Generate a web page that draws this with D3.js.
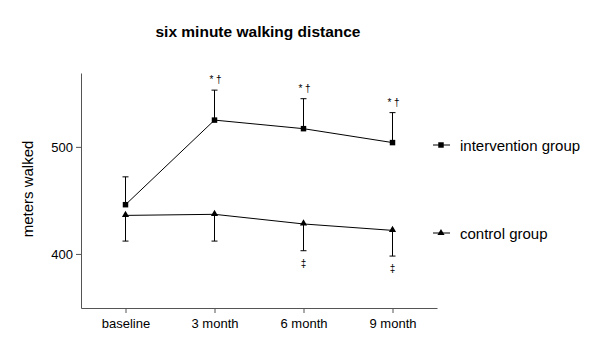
<!DOCTYPE html>
<html>
<head>
<meta charset="utf-8">
<script src="https://cdn.jsdelivr.net/npm/d3@7"></script>
<style>
  body { margin: 0; background: #fff; }
  text { font-family: "Liberation Sans", Arial, sans-serif; fill: #000; }
</style>
</head>
<body>
<div id="chart"></div>
<script>
const TIMEPOINTS = ['baseline', '3 month', '6 month', '9 month'];
const INTERVENTION_MEAN = [446, 525, 517, 504];
const INTERVENTION_UPPER = [472, 553, 545, 532];
const CONTROL_MEAN = [436, 437, 428, 422];
const CONTROL_LOWER = [412, 412, 403, 398];
const INTERVENTION_MARKS = ['', '* †', '* †', '* †'];
const CONTROL_MARKS = ['', '', '‡', '‡'];
const Y_TICKS = [400, 500];

function sixMinuteChart() {
  var width = 600, height = 353;
  var margin = {top: 73, right: 163, bottom: 45, left: 81};

  var svg = d3.select("#chart")
              .append("svg")
                .attr("width", width)
                .attr("height", height);

  var x = d3.scalePoint()
            .domain(TIMEPOINTS)
            .range([margin.left, width - margin.right])
            .padding(0.5);

  var y = d3.scaleLinear()
            .domain([349.5, 569])
            .range([height - margin.bottom, margin.top]);

  // title
  svg.append("text")
      .attr("x", 258)
      .attr("y", 37)
      .attr("text-anchor", "middle")
      .style("font-size", "15.5px")
      .style("font-weight", "bold")
      .text("six minute walking distance");

  // axes
  var xAxis = svg.append("g")
      .attr("transform", "translate(0," + (height - margin.bottom) + ")")
      .call(d3.axisBottom(x).tickSize(5).tickSizeOuter(0));
  xAxis.selectAll("text").style("font-size", "13px").attr("dy", "0.95em");

  var yAxis = svg.append("g")
      .attr("transform", "translate(" + margin.left + ",0)")
      .call(d3.axisLeft(y).tickValues(Y_TICKS).tickSize(5).tickSizeOuter(0));
  yAxis.selectAll("text").style("font-size", "13px");

  svg.selectAll(".domain, .tick line").attr("stroke", "#555");

  svg.append("text")
      .attr("transform", "translate(33,189) rotate(-90)")
      .attr("text-anchor", "middle")
      .style("font-size", "15px")
      .text("meters walked");

  var line = d3.line()
      .x(function(d, i) { return x(TIMEPOINTS[i]); })
      .y(function(d) { return y(d); });

  // error bars (one-sided)
  function errorBars(mean, bound) {
    var g = svg.append("g").attr("stroke", "#000").attr("stroke-width", 1);
    mean.forEach(function(m, i) {
      var cx = x(TIMEPOINTS[i]);
      g.append("line")
        .attr("x1", cx).attr("x2", cx)
        .attr("y1", y(m)).attr("y2", y(bound[i]));
      g.append("line")
        .attr("x1", cx - 3).attr("x2", cx + 3)
        .attr("y1", y(bound[i])).attr("y2", y(bound[i]));
    });
  }
  errorBars(INTERVENTION_MEAN, INTERVENTION_UPPER);
  errorBars(CONTROL_MEAN, CONTROL_LOWER);

  svg.append("path").datum(INTERVENTION_MEAN)
      .attr("d", line).attr("fill", "none").attr("stroke", "#000");
  svg.append("path").datum(CONTROL_MEAN)
      .attr("d", line).attr("fill", "none").attr("stroke", "#000");

  var square = d3.symbol().type(d3.symbolSquare).size(30);
  var triangle = d3.symbol().type(d3.symbolTriangle).size(22);

  svg.selectAll("myIntervention")
      .data(INTERVENTION_MEAN).enter()
      .append("path")
        .attr("d", square)
        .attr("transform", function(d, i) { return "translate(" + x(TIMEPOINTS[i]) + "," + y(d) + ")"; });

  svg.selectAll("myControl")
      .data(CONTROL_MEAN).enter()
      .append("path")
        .attr("d", triangle)
        .attr("transform", function(d, i) { return "translate(" + x(TIMEPOINTS[i]) + "," + (y(d) - 0.5) + ")"; });

  // significance marks
  svg.selectAll("myMarksTop")
      .data(INTERVENTION_MARKS).enter()
      .append("text")
        .attr("x", function(d, i) { return x(TIMEPOINTS[i]) + 1; })
        .attr("y", function(d, i) { return y(INTERVENTION_UPPER[i]) - 7; })
        .attr("text-anchor", "middle")
        .style("font-size", "10px")
        .text(function(d) { return d; });

  svg.selectAll("myMarksBottom")
      .data(CONTROL_MARKS).enter()
      .append("text")
        .attr("x", function(d, i) { return x(TIMEPOINTS[i]); })
        .attr("y", function(d, i) { return y(CONTROL_LOWER[i]) + 16; })
        .attr("text-anchor", "middle")
        .style("font-size", "10px")
        .text(function(d) { return d; });

  // legend
  var legend = [
    {label: "intervention group", y: 145, sym: square},
    {label: "control group", y: 233, sym: triangle}
  ];
  legend.forEach(function(l) {
    svg.append("line")
        .attr("x1", 433).attr("x2", 450)
        .attr("y1", l.y).attr("y2", l.y)
        .attr("stroke", "#000");
    svg.append("path")
        .attr("d", l.sym)
        .attr("transform", "translate(441," + l.y + ")");
    svg.append("text")
        .attr("x", 460)
        .attr("y", l.y + 5.5)
        .style("font-size", "15px")
        .text(l.label);
  });
}

sixMinuteChart();
</script>
</body>
</html>
